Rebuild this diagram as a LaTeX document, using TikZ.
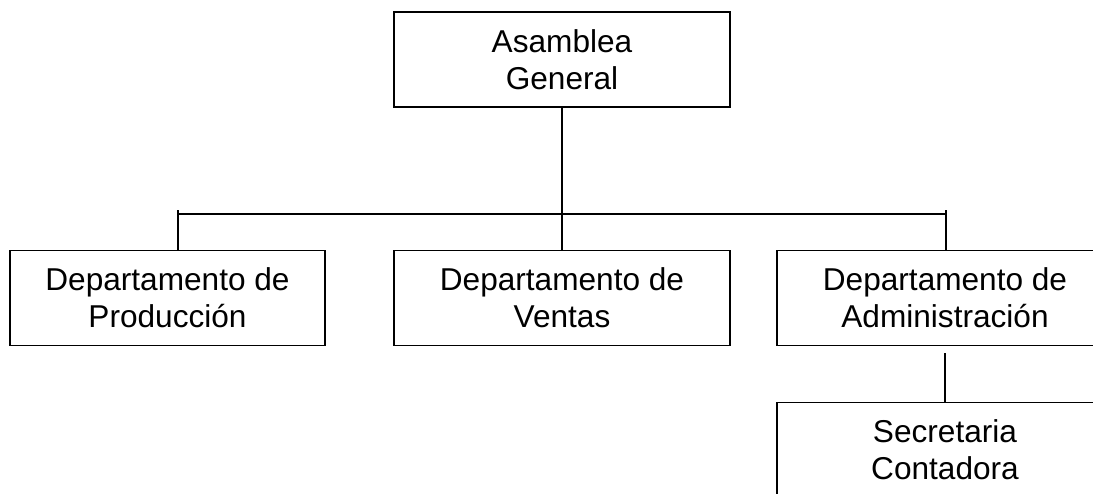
\documentclass[tikz,border=0pt]{standalone}
\usepackage{fontspec}
\setmainfont{Liberation Sans}
\begin{document}
\begin{tikzpicture}[x=1pt,y=-1pt,
  orgbox/.style={draw, line width=1.5pt, rectangle, inner sep=0pt,
    minimum width=336pt, minimum height=95pt, align=center,
    font=\fontsize{31.6}{37}\selectfont},
  link/.style={line width=1.5pt}]
\useasboundingbox (0,0) rectangle (1093,493);
\clip (0,0) rectangle (1093,493);
\node[orgbox] (top) at (562,59.5) {Asamblea\\General};
\node[orgbox, minimum width=315pt] (prod) at (167.5,298) {Departamento de\\Producción};
\node[orgbox] (vent) at (562,298) {Departamento de\\Ventas};
\node[orgbox] (adm) at (945,298) {Departamento de\\Administración};
\node[orgbox] (sec) at (945,450) {Secretaria\\Contadora};
\coordinate (pl) at (178,210);
\coordinate (ar) at (946,210);
\coordinate (bl) at (178,214);
\coordinate (br) at (946,214);
\draw[link] (top) -- (vent);
\draw[link] (bl) -- (br);
\draw[link] (pl) -- (pl |- prod.north);
\draw[link] (ar) -- (ar |- adm.north);
\draw[link] ([yshift=-7pt]adm.south) -- (sec.north);
\end{tikzpicture}
\end{document}
